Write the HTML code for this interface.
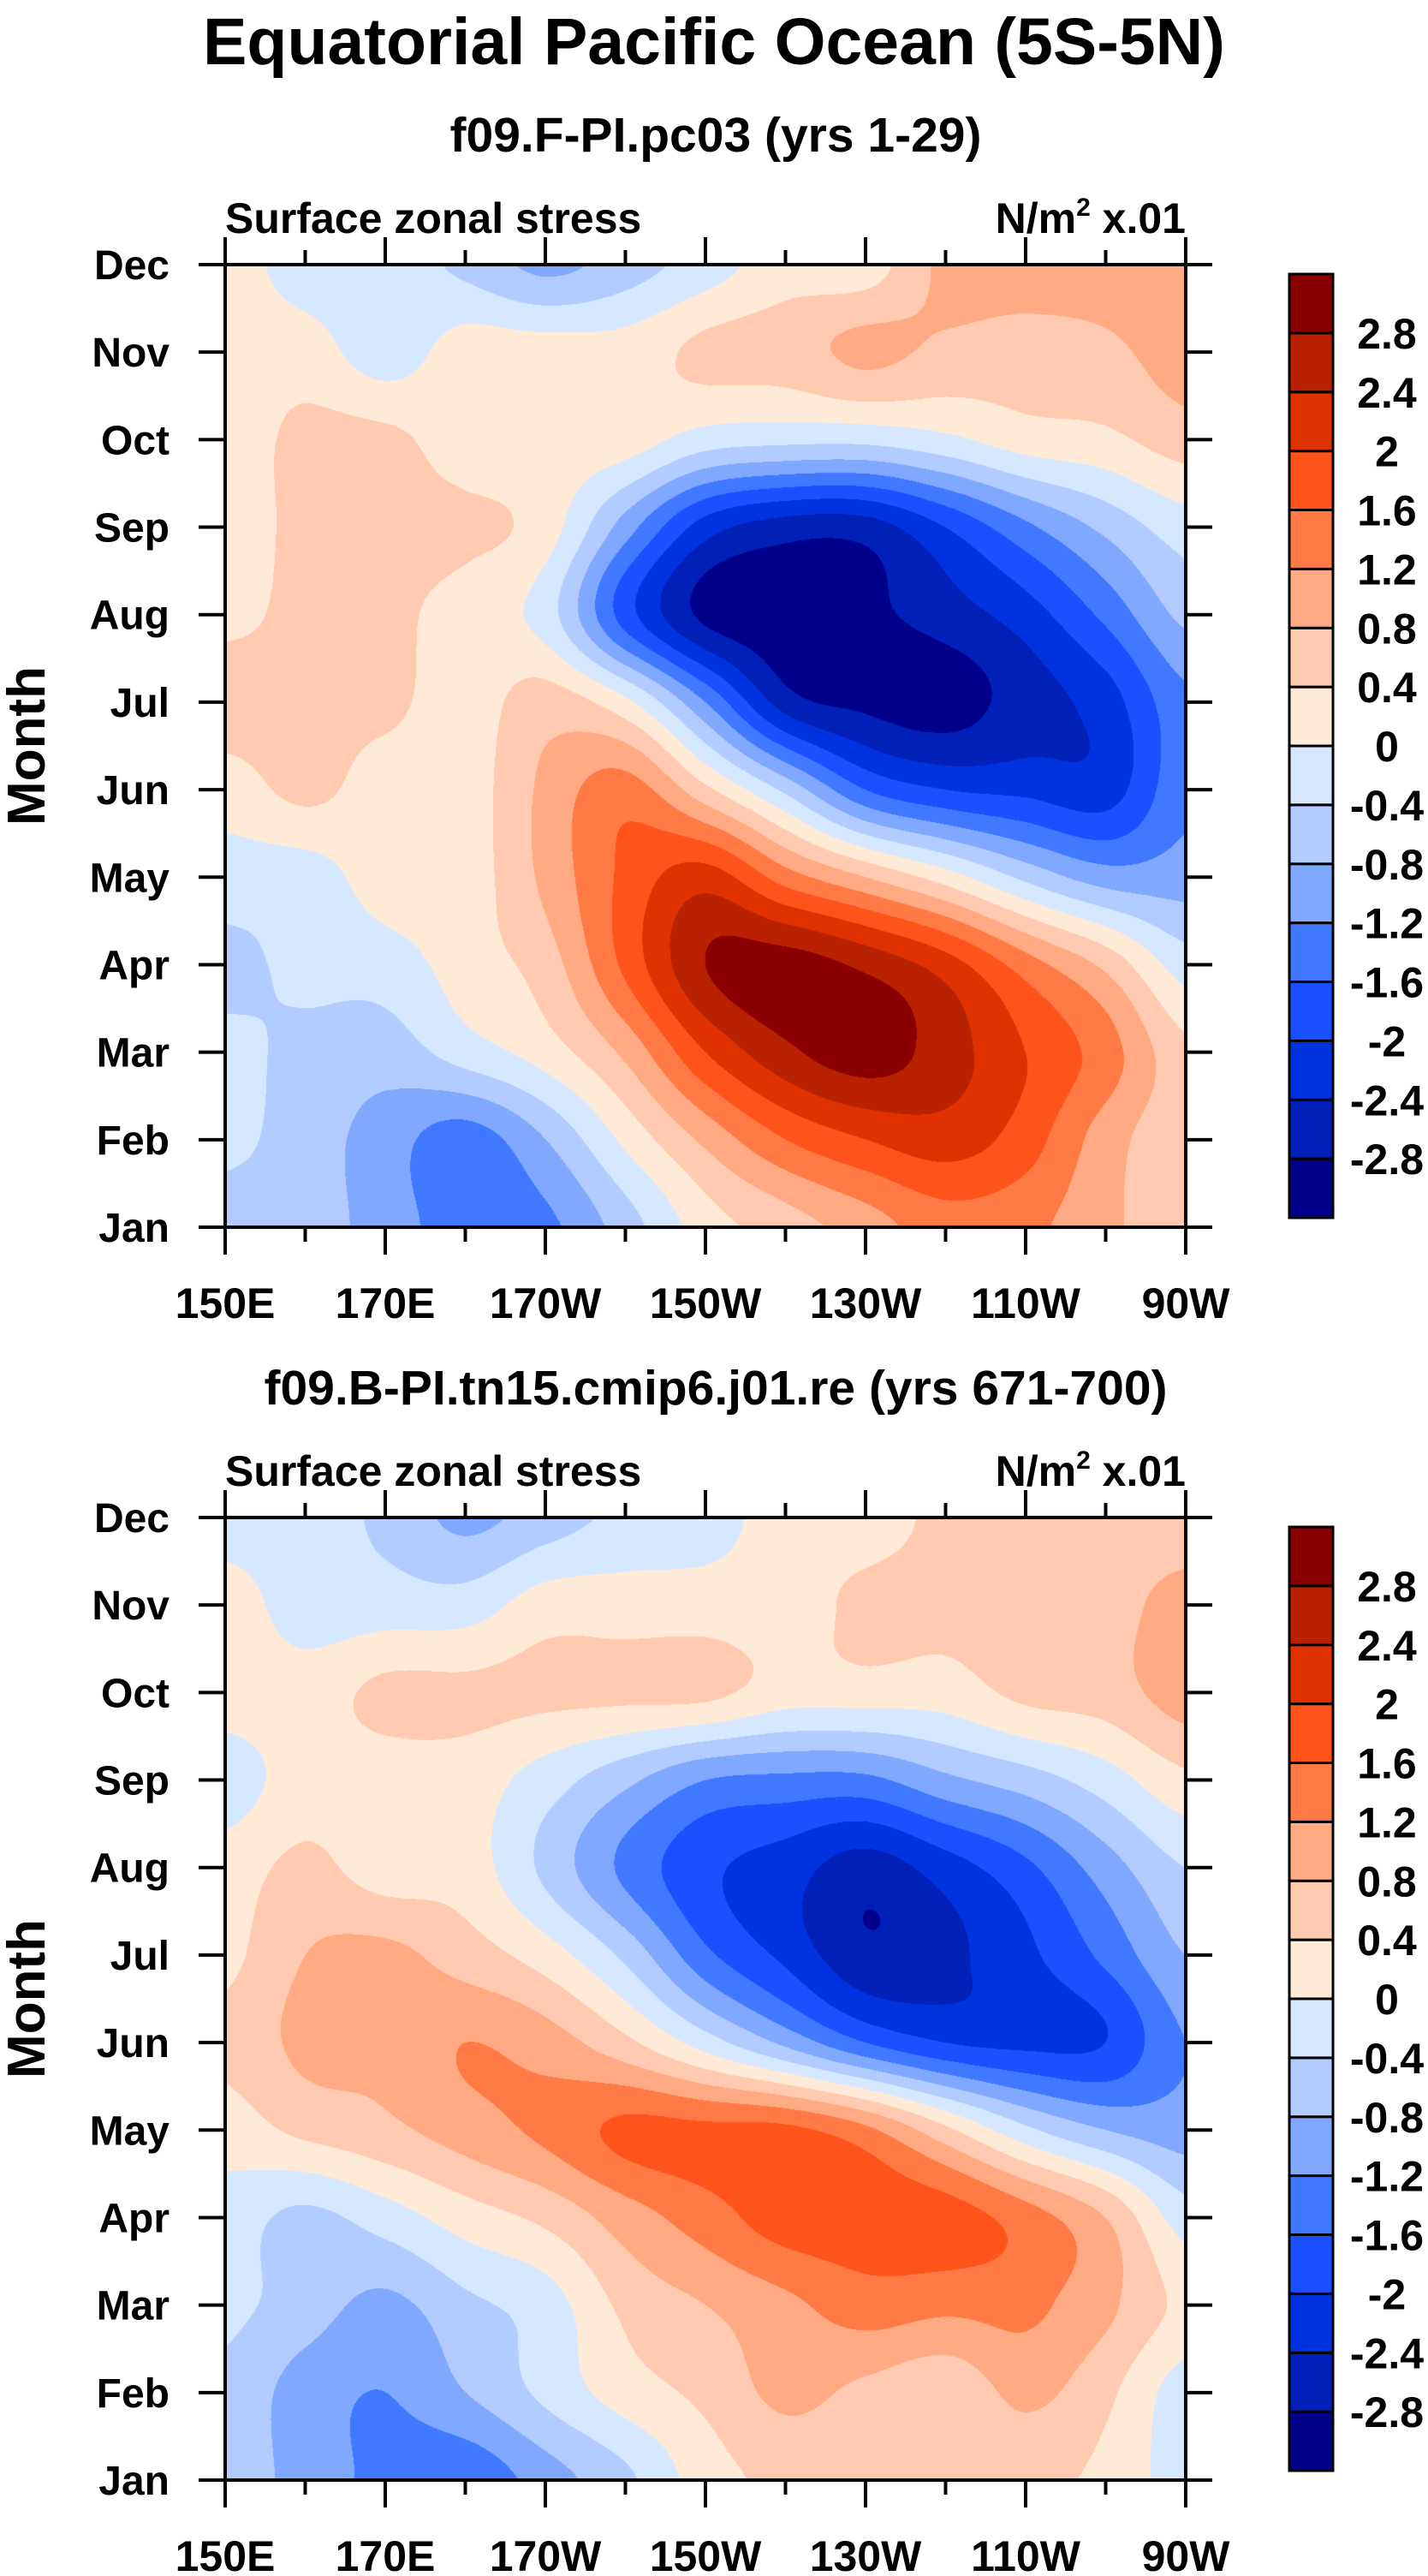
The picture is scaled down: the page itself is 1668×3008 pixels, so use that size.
<!DOCTYPE html>
<html><head><meta charset="utf-8">
<style>
body{margin:0;background:#fff;width:1668px;height:3008px;overflow:hidden;position:relative;font-family:"Liberation Sans",Arial,sans-serif}
canvas{position:absolute}
svg{position:absolute;left:0;top:0}
text{font-family:"Liberation Sans",Arial,sans-serif;font-weight:bold;fill:#000}
</style></head>
<body>
<canvas id="c1" width="1122" height="1124" style="left:263px;top:309px"></canvas>
<canvas id="c2" width="1122" height="1124" style="left:263px;top:1772px"></canvas>
<svg id="ov" width="1668" height="3008">
<text x="834" y="75" font-size="77" text-anchor="middle">Equatorial Pacific Ocean (5S-5N)</text>
</svg>
<script>
const lons=[150,160,170,180,190,200,210,220,230,240,250,260,270];
const months=["Jan","Feb","Mar","Apr","May","Jun","Jul","Aug","Sep","Oct","Nov","Dec"];
const xTickLabels=["150E","170E","170W","150W","130W","110W","90W"];
const levels=[-2.8,-2.4,-2,-1.6,-1.2,-0.8,-0.4,0,0.4,0.8,1.2,1.6,2,2.4,2.8];
const levelLabels=["-2.8","-2.4","-2","-1.6","-1.2","-0.8","-0.4","0","0.4","0.8","1.2","1.6","2","2.4","2.8"];
// rows: Jan..Dec, cols: lons
const field1=[
[-0.6,-0.6,-1.0,-1.4,-1.3,-0.6,0.2,0.6,1.0,1.4,1.3,0.9,0.5],
[-0.3,-0.6,-1.0,-1.4,-0.8,0.1,0.9,1.6,2.0,2.2,1.8,1.0,0.5],
[-0.3,-0.5,-0.6,-0.2,0.2,0.9,2.0,2.7,3.0,2.6,2.0,1.4,0.5],
[-0.5,-0.3,-0.2,0.2,0.6,1.7,2.8,3.0,2.7,2.2,1.4,0.7,-0.2],
[-0.2,-0.2,0.2,0.2,0.9,1.7,2.2,1.4,0.8,0.2,-0.5,-1.0,-1.0],
[0.2,0.5,0.2,0.2,0.9,1.4,0.5,-0.5,-1.6,-2.0,-2.1,-2.2,-1.3],
[0.6,0.5,0.5,0.2,0.6,0.1,-1.2,-2.6,-2.9,-3.0,-2.6,-2.2,-1.3],
[0.3,0.5,0.5,0.2,-0.2,-1.8,-2.9,-3.0,-2.9,-2.6,-2.2,-1.5,-0.7],
[0.2,0.5,0.5,0.5,0.2,-1.0,-2.2,-2.6,-2.6,-2.0,-1.3,-0.7,-0.2],
[0.2,0.5,0.5,0.2,0.2,0.2,-0.2,-0.3,-0.3,-0.1,0.2,0.3,0.6],
[0.2,0.2,-0.2,0.2,0.2,0.2,0.5,0.6,0.9,0.7,0.6,0.7,1.0],
[0.2,-0.2,-0.2,-0.5,-0.9,-0.6,-0.2,0.2,0.2,0.9,1.0,1.0,1.0]];
const field2=[
[-0.5,-1.0,-1.3,-1.5,-1.0,-0.5,0.2,0.5,0.5,0.5,0.5,0.3,-0.2],
[-0.5,-1.0,-1.2,-0.8,-0.3,0.2,0.5,0.9,0.7,0.5,0.9,0.5,-0.2],
[-0.3,-0.6,-0.9,-0.5,-0.2,0.5,0.8,1.1,1.4,1.3,1.3,0.9,0.3],
[-0.2,-0.5,-0.2,0.2,0.5,1.0,1.4,1.8,1.8,1.8,1.4,0.8,-0.2],
[0.2,0.5,0.7,1.0,1.3,1.7,1.7,1.7,1.3,0.5,-0.3,-0.8,-1.0],
[0.5,0.9,0.9,1.2,1.0,0.5,-0.2,-0.9,-1.6,-2.0,-2.1,-2.0,-1.2],
[0.3,0.8,0.9,0.6,0.2,-0.5,-1.5,-2.1,-2.7,-2.5,-2.1,-1.5,-0.8],
[0.2,0.5,0.2,0.2,-0.5,-1.3,-1.9,-2.2,-2.6,-2.2,-1.7,-1.0,-0.4],
[-0.2,0.2,0.2,0.2,-0.2,-0.7,-1.2,-1.3,-1.3,-0.9,-0.6,-0.2,0.3],
[0.2,0.2,0.5,0.5,0.5,0.5,0.5,0.2,0.2,0.2,0.5,0.6,1.0],
[0.2,-0.2,-0.2,-0.2,0.2,0.2,0.2,0.2,0.5,0.5,0.5,0.6,1.0],
[-0.2,-0.2,-0.5,-0.9,-0.6,-0.3,-0.2,0.2,0.2,0.5,0.5,0.5,0.5]];
const colors=["#00008a","#0020b8","#0033e0","#1a50ff","#4078ff","#80a8ff","#b3ccff","#d6e8ff","#ffead8","#ffcab0","#ffaa82","#ff7a45","#ff531c","#e03200","#b82200","#8a0000"];

const PW=1122,PH=1124,PL=263;
function hex(c){return [parseInt(c.substr(1,2),16),parseInt(c.substr(3,2),16),parseInt(c.substr(5,2),16)];}
const rgb=colors.map(hex);
function band(v){let b=0;for(const l of levels){if(v>=l)b++;}return b;}
function cr(p0,p1,p2,p3,t){return 0.5*((2*p1)+(-p0+p2)*t+(2*p0-5*p1+4*p2-p3)*t*t+(-p0+3*p1-3*p2+p3)*t*t*t);}
function sample(f,fx,fy){
  const nx=f[0].length,ny=f.length;
  const i=Math.min(Math.floor(fx),nx-2),j=Math.min(Math.floor(fy),ny-2);
  const tx=fx-i,ty=fy-j;
  const g=(a,b)=>f[Math.max(0,Math.min(ny-1,b))][Math.max(0,Math.min(nx-1,a))];
  const r=[];
  for(let k=-1;k<=2;k++){r.push(cr(g(i-1,j+k),g(i,j+k),g(i+1,j+k),g(i+2,j+k),tx));}
  return cr(r[0],r[1],r[2],r[3],ty);
}
function drawField(id,f){
  const cv=document.getElementById(id),ctx=cv.getContext('2d');
  const img=ctx.createImageData(PW,PH);
  const nx=lons.length-1,ny=months.length-1;
  for(let py=0;py<PH;py++){
    const fy=(PH-1-py)/(PH-1)*ny;
    for(let px=0;px<PW;px++){
      const fx=px/(PW-1)*nx;
      const v=sample(f,fx,fy);
      const c=rgb[band(v)],k=(py*PW+px)*4;
      img.data[k]=c[0];img.data[k+1]=c[1];img.data[k+2]=c[2];img.data[k+3]=255;
    }
  }
  ctx.putImageData(img,0,0);
}
drawField('c1',field1);drawField('c2',field2);

const svg=document.getElementById('ov'),NS='http://www.w3.org/2000/svg';
function mk(tag,attrs,parent){const e=document.createElementNS(NS,tag);for(const k in attrs)e.setAttribute(k,attrs[k]);(parent||svg).appendChild(e);return e;}
function xs(lon){return PL+(lon-150)/120*PW;}
function panel(top,sub,n){
  const g=mk('g',{});
  
  
  const bot=top+PH;
  let t=mk('text',{x:836,y:top-132,'font-size':57,'text-anchor':'middle'},g);t.textContent=sub;
  
  t=mk('text',{x:PL,y:top-37,'font-size':50},g);t.textContent='Surface zonal stress';
  
  t=mk('text',{x:PL+PW,y:top-37,'font-size':50,'text-anchor':'end'},g);
  t.innerHTML='N/m<tspan dy="-20" font-size="30">2</tspan><tspan dy="20"> x.01</tspan>';
  
  t=mk('text',{x:0,y:0,'font-size':62,'text-anchor':'middle',transform:'translate(52,'+(top+PH/2)+') rotate(-90)'},g);t.textContent='Month';
  
  const fr=mk('rect',{x:PL,y:top,width:PW,height:PH,fill:'none',stroke:'#000','stroke-width':4},g);
  
  for(let m=0;m<12;m++){
    const y=bot-m*PH/11;
    mk('line',{x1:PL-31,x2:PL,y1:y,y2:y,stroke:'#000','stroke-width':4},g);
    mk('line',{x1:PL+PW,x2:PL+PW+31,y1:y,y2:y,stroke:'#000','stroke-width':4},g);
    const l=mk('text',{x:PL-65,y:y+17,'font-size':48,'text-anchor':'end'},g);l.textContent=months[m];
    
  }
  for(let lon=150;lon<=270;lon+=10){
    const x=xs(lon),major=(lon-150)%20===0,L=major?32:17;
    mk('line',{x1:x,x2:x,y1:bot,y2:bot+L,stroke:'#000','stroke-width':4},g);
    mk('line',{x1:x,x2:x,y1:top-L,y2:top,stroke:'#000','stroke-width':4},g);
  }
  xTickLabels.forEach((s,k)=>{
    const l=mk('text',{x:xs(150+20*k),y:bot+106,'font-size':50,'text-anchor':'middle'},g);l.textContent=s;
    
  });
  const cbTop=top+11,cbH=1102,bh=cbH/16,cbx=1506,cbw=51;
  const cb=mk('g',{},g);
  
  for(let b=0;b<16;b++){
    const r=mk('rect',{x:cbx,y:cbTop+cbH-(b+1)*bh,width:cbw,height:bh,fill:colors[b],stroke:'#000','stroke-width':3},cb);
    
  }
  levelLabels.forEach((s,k)=>{
    const y=cbTop+cbH-(k+1)*bh;
    const l=mk('text',{x:1620,y:y+18,'font-size':50,'text-anchor':'middle'},cb);l.textContent=s;
    
  });
}
panel(309,'f09.F-PI.pc03 (yrs 1-29)',1);
panel(1772,'f09.B-PI.tn15.cmip6.j01.re (yrs 671-700)',2);
</script>
</body></html>
